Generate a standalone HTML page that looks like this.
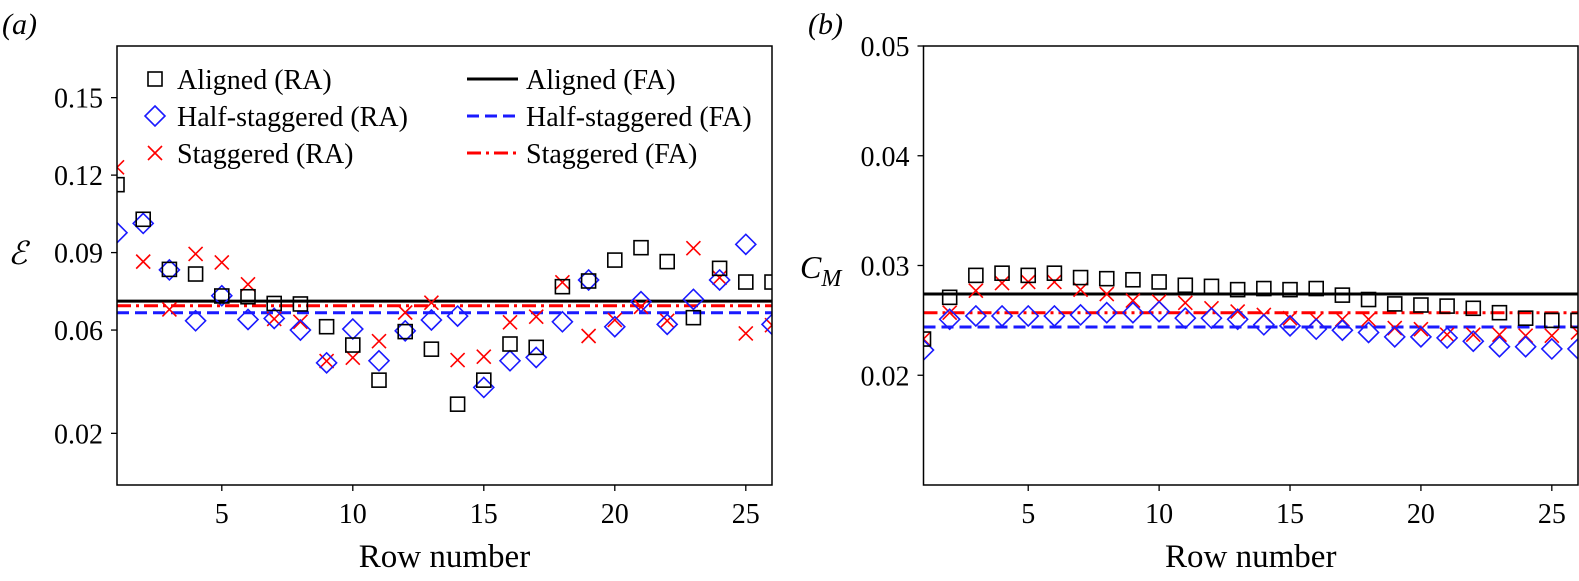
<!DOCTYPE html>
<html><head><meta charset="utf-8"><style>
html,body{margin:0;padding:0;background:#fff;}
svg{display:block;}
svg text{font-family:"Liberation Serif","Times New Roman",serif;}
</style></head><body>
<svg id="fig" width="1579" height="581" viewBox="0 0 1579 581" xmlns="http://www.w3.org/2000/svg" font-family="Liberation Serif, serif"></svg>
<script>
const rows = Array.from({length:26},(_,i)=>i+1);
const epsAligned = [0.1163,0.1029,0.0835,0.0817,0.0732,0.0729,0.0703,0.0701,0.0613,0.0542,0.0406,0.0594,0.0526,0.0313,0.0406,0.0546,0.0533,0.0768,0.0790,0.0871,0.0919,0.0865,0.0648,0.0839,0.0786,0.0786];
const epsHalf = [0.0977,0.1013,0.0833,0.0636,0.0733,0.0641,0.0645,0.0600,0.0473,0.0604,0.0481,0.0597,0.0639,0.0654,0.0378,0.0481,0.0494,0.0632,0.0794,0.0613,0.0710,0.0622,0.0719,0.0794,0.0932,0.0622];
const epsStag = [0.1230,0.0865,0.0680,0.0895,0.0862,0.0777,0.0643,0.0632,0.0480,0.0493,0.0557,0.0668,0.0706,0.0484,0.0497,0.0630,0.0652,0.0785,0.0577,0.0639,0.0690,0.0636,0.0917,0.0803,0.0587,0.0619];
const epsFA = [0.0712,0.0667,0.0694];
const cmAligned = [0.0233,0.0271,0.0291,0.0293,0.0291,0.0293,0.0289,0.0288,0.0287,0.0285,0.0282,0.0281,0.0278,0.0279,0.0278,0.0279,0.0273,0.0269,0.0265,0.0264,0.0263,0.0261,0.0257,0.0252,0.0250,0.0250];
const cmHalf = [0.0223,0.0251,0.0254,0.0254,0.0254,0.0254,0.0255,0.0257,0.0257,0.0258,0.0252,0.0252,0.0251,0.0246,0.0245,0.0242,0.0241,0.0239,0.0235,0.0235,0.0234,0.0231,0.0226,0.0226,0.0224,0.0224];
const cmStag = [0.0233,0.0257,0.0277,0.0284,0.0285,0.0285,0.0278,0.0274,0.0268,0.0267,0.0266,0.0261,0.0258,0.0255,0.0252,0.0251,0.0251,0.0251,0.0243,0.0242,0.0237,0.0237,0.0237,0.0236,0.0236,0.0239];
const cmFA = [0.0274,0.0244,0.0257];
const xTicks = [5,10,15,20,25];
const epsTicks = [0.02,0.06,0.09,0.12,0.15];
const epsTickLabels = ["0.02","0.06","0.09","0.12","0.15"];
const cmTicks = [0.02,0.03,0.04,0.05];
const cmTickLabels = ["0.02","0.03","0.04","0.05"];

const NS="http://www.w3.org/2000/svg";
const svg=document.getElementById('fig');
function mk(tag,attrs,parent){const e=document.createElementNS(NS,tag);for(const k in attrs)e.setAttribute(k,attrs[k]);(parent||svg).appendChild(e);return e;}

function panel(cfg){
  const g=mk('g',{});
  
  
  const L=cfg.left,R=cfg.right,T=46,B=485;
  const xs=v=>L+(v-1)/(26-1)*(R-L);
  const ys=v=>B-(v-cfg.ymin)/(cfg.ymax-cfg.ymin)*(B-T);
  const clip='clip'+cfg.name;
  const cp=mk('clipPath',{id:clip},g);mk('rect',{x:L,y:T,width:R-L,height:B-T},cp);
  const plot=mk('g',{'clip-path':'url(#'+clip+')'},g);
  const lineStyles=[{c:'#000',d:''},{c:'#1a1aff',d:'12,6'},{c:'#ff0000',d:'14,5,3,5'}];
  const lnames=['aligned-fa-line','half-staggered-fa-line','staggered-fa-line'];
  cfg.fa.forEach((v,i)=>{
    const l=mk('line',{x1:L,x2:R,y1:ys(v),y2:ys(v),stroke:lineStyles[i].c,'stroke-width':3,'stroke-dasharray':lineStyles[i].d},plot);
    
    
  });
  rows.forEach((r,i)=>{
    const x=xs(r);
    let y=ys(cfg.stag[i]);
    const s=mk('path',{d:`M${x-7},${y-7}L${x+7},${y+7}M${x-7},${y+7}L${x+7},${y-7}`,stroke:'#ff0000','stroke-width':1.6,fill:'none'},plot);
    
    
    y=ys(cfg.half[i]);
    const d=mk('path',{d:`M${x},${y-10}L${x+10},${y}L${x},${y+10}L${x-10},${y}Z`,stroke:'#1a1aff','stroke-width':1.6,fill:'none'},plot);
    
    
    y=ys(cfg.al[i]);
    const q=mk('rect',{x:x-7,y:y-7,width:14,height:14,stroke:'#000','stroke-width':1.6,fill:'none'},plot);
    
    
  });
  const fr=mk('rect',{x:L,y:T,width:R-L,height:B-T,fill:'none',stroke:'#000','stroke-width':1.5},g);
  
  
  xTicks.forEach(t=>{
    mk('line',{x1:xs(t),x2:xs(t),y1:B,y2:B+6,stroke:'#000','stroke-width':1.3},g);
    const tx=mk('text',{x:xs(t),y:523,'font-size':28,'text-anchor':'middle'},g);
    tx.textContent=t;
    
    
  });
  cfg.ticks.forEach((t,i)=>{
    mk('line',{x1:L-6,x2:L,y1:ys(t),y2:ys(t),stroke:'#000','stroke-width':1.3},g);
    const tx=mk('text',{x:L-14,y:ys(t)+10,'font-size':28,'text-anchor':'end'},g);
    tx.textContent=cfg.tickLabels[i];
    
    
  });
  const xl=mk('text',{x:(L+R)/2,y:567,'font-size':33,'text-anchor':'middle'},g);
  xl.textContent='Row number';
  
  
  return g;
}

panel({name:'panel-a',left:117,right:772,ymin:0,ymax:0.17,al:epsAligned,half:epsHalf,stag:epsStag,fa:epsFA,ticks:epsTicks,tickLabels:epsTickLabels});
panel({name:'panel-b',left:923.5,right:1578,ymin:0.01,ymax:0.05,al:cmAligned,half:cmHalf,stag:cmStag,fa:cmFA,ticks:cmTicks,tickLabels:cmTickLabels});

let t;
t=mk('text',{x:2,y:34,'font-size':30,'font-style':'italic'});t.textContent='(a)';


t=mk('text',{x:808,y:34,'font-size':30,'font-style':'italic'});t.textContent='(b)';


t=mk('text',{x:8,y:264,'font-size':32,'font-style':'italic'});t.textContent='ℰ';


t=mk('text',{x:800,y:278,'font-size':32,'font-style':'italic'});
t.innerHTML='C<tspan font-size="24" dy="8">M</tspan>';



const lg=mk('g',{});


const ly=[79,116,153];
const leftLabels=['Aligned (RA)','Half-staggered (RA)','Staggered (RA)'];
const rightLabels=['Aligned (FA)','Half-staggered (FA)','Staggered (FA)'];
mk('rect',{x:148,y:72,width:14,height:14,stroke:'#000','stroke-width':1.6,fill:'none'},lg);
mk('path',{d:`M155,106L165,116L155,126L145,116Z`,stroke:'#1a1aff','stroke-width':1.6,fill:'none'},lg);
mk('path',{d:`M148,146L162,160M148,160L162,146`,stroke:'#ff0000','stroke-width':1.6,fill:'none'},lg);
mk('line',{x1:467,x2:518,y1:79,y2:79,stroke:'#000','stroke-width':3},lg);
mk('line',{x1:467,x2:518,y1:116,y2:116,stroke:'#1a1aff','stroke-width':3,'stroke-dasharray':'12,6'},lg);
mk('line',{x1:467,x2:518,y1:153,y2:153,stroke:'#ff0000','stroke-width':3,'stroke-dasharray':'14,5,3,5'},lg);
leftLabels.forEach((s,i)=>{const e=mk('text',{x:177,y:ly[i]+10,'font-size':28},lg);e.textContent=s;
  
  });
rightLabels.forEach((s,i)=>{const e=mk('text',{x:526,y:ly[i]+10,'font-size':28},lg);e.textContent=s;
  
  });
</script>
</body></html>
